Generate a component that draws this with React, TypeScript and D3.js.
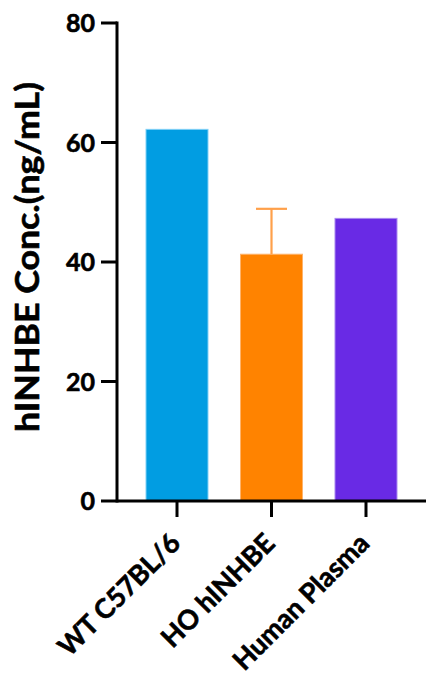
import React from "react";
import * as d3 from "d3";

const categories = ["WT C57BL/6", "HO hINHBE", "Human Plasma"];
const values = [62.2, 41.3, 47.3];
const errors = [0, 7.6, 0];
const colors = ["#019de2", "#ff8300", "#692ae5"];
const edgeColors = ["#7fd0f6", "#ffb36a", "#a98af0"];
const yTicks = [0, 20, 40, 60, 80];

const W = 426;
const H = 685;
const X0 = 117;
const X1 = 426;
const Y0 = 501;
const Y1 = 23;
const FONT = "Lato, 'Open Sans', sans-serif";

export default function App() {
  const x = d3
    .scaleBand<string>()
    .domain(categories)
    .range([X0, X1])
    .paddingInner(0.344)
    .paddingOuter(0.307);
  const y = d3.scaleLinear().domain([0, 80]).range([Y0, Y1]);
  const bw = x.bandwidth();

  return (
    <svg
      width={W}
      height={H}
      style={{ position: "absolute", left: 0, top: 0, background: "#fff" }}
    >
      {categories.map((c, i) => (
        <rect
          key={c}
          x={x(c)!}
          y={y(values[i])}
          width={bw}
          height={Y0 - y(values[i])}
          fill={colors[i]}
          stroke={edgeColors[i]}
          strokeWidth={1}
        />
      ))}
      {categories.map((c, i) =>
        errors[i] > 0 ? (
          <g key={"e" + c} stroke="#ffa04a" strokeWidth={2.2} fill="none">
            <line
              x1={x(c)! + bw / 2}
              x2={x(c)! + bw / 2}
              y1={y(values[i])}
              y2={y(values[i] + errors[i])}
            />
            <line
              x1={x(c)! + bw / 2 - 15.5}
              x2={x(c)! + bw / 2 + 15.5}
              y1={y(values[i] + errors[i])}
              y2={y(values[i] + errors[i])}
            />
          </g>
        ) : null
      )}
      <line x1={X0} x2={X0} y1={Y1 - 1.5} y2={Y0 + 1.5} stroke="#000" strokeWidth={3} />
      {yTicks.map((t) => (
        <g key={t}>
          <line x1={X0 - 16} x2={X0} y1={y(t)} y2={y(t)} stroke="#000" strokeWidth={3} />
          <text
            x={X0 - 22}
            y={y(t)}
            dy="0.36em"
            textAnchor="end"
            fontFamily={FONT}
            fontWeight={700}
            fontSize={25}
            fill="#000"
            stroke="#000"
            strokeWidth={0.6}
          >
            {t}
          </text>
        </g>
      ))}
      <line x1={X0} x2={X1} y1={Y0} y2={Y0} stroke="#000" strokeWidth={3} />
      {categories.map((c) => {
        const cx = x(c)! + bw / 2;
        return (
          <g key={"x" + c}>
            <line x1={cx} x2={cx} y1={Y0} y2={Y0 + 16} stroke="#000" strokeWidth={3} />
            <text
              transform={`translate(${cx + 5},${Y0 + 44}) rotate(-45)`}
              textAnchor="end"
              fontFamily={FONT}
              fontWeight={700}
              fontSize={27}
              fill="#000"
              stroke="#000"
              strokeWidth={0.6}
            >
              {c}
            </text>
          </g>
        );
      })}
      <text
        transform={`translate(39,${(82 + 432) / 2}) rotate(-90)`}
        textAnchor="middle"
        fontFamily={FONT}
        fontWeight={700}
        fontSize={33}
        textLength={350}
        lengthAdjust="spacingAndGlyphs"
        fill="#000"
        stroke="#000"
        strokeWidth={0.6}
      >
        hINHBE Conc.(ng/mL)
      </text>
    </svg>
  );
}
